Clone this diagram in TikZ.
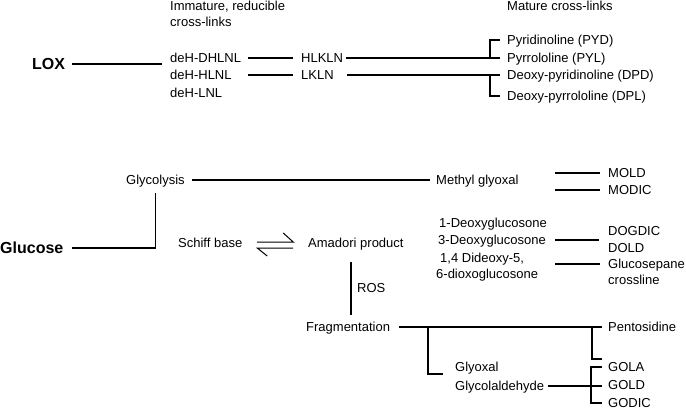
\documentclass[tikz,border=0pt]{standalone}
\usepackage{fontspec}
\setmainfont{Liberation Sans}
\usepackage{tikz}
\usetikzlibrary{calc}
\tikzset{
 txt/.style={font=\fontsize{13}{15}\selectfont,inner sep=0pt,anchor=west,text height=9.4pt,text depth=0pt},
 head/.style={txt,font=\bfseries\fontsize{16}{19}\selectfont,text height=11.5pt},
 link/.style={line width=1.2pt}
}
\begin{document}
\begin{tikzpicture}[x=1pt,y=-1pt]
\useasboundingbox(0,0)rectangle(686,410);
%headers
\node[txt](imm1)at(170,6){Immature, reducible};
\node[txt](imm2)at(170,22){cross-links};
\node[txt](mat)at(507,6){Mature cross-links};
%LOX branch
\node[head](lox)at(32,64){LOX};
\node[txt](dhlnl)at(170,58){deH-DHLNL};
\node[txt](hlnl)at(170,75){deH-HLNL};
\node[txt](lnl)at(170,93){deH-LNL};
\node[txt](hlkln)at(301,58){HLKLN};
\node[txt](lkln)at(301,75){LKLN};
\node[txt](pyd)at(507,40){Pyridinoline (PYD)};
\node[txt](pyl)at(507,58){Pyrrololine (PYL)};
\node[txt](dpd)at(507,75){Deoxy-pyridinoline (DPD)};
\node[txt](dpl)at(507,96){Deoxy-pyrrololine (DPL)};
\draw[link]([xshift=7pt]lox.east)--([xshift=-8pt]lox.east-|dhlnl.west);
\draw[link]([xshift=7pt]dhlnl.east)--([xshift=-8pt]hlkln.west);
\draw[link]([xshift=7pt]hlnl.east-|dhlnl.east)--([xshift=-8pt]lkln.west);
\draw[link]([xshift=3pt]hlkln.east)--([xshift=-7pt]pyl.west);
\draw[link]([xshift=13pt]lkln.east)--([xshift=-7pt]dpd.west);
\draw[link]([xshift=-17pt]pyl.west)|-([xshift=-7pt]pyd.west);
\draw[link]([xshift=-17pt]dpd.west)|-([xshift=-7pt]dpl.west);
%glucose branch
\node[head](gluc)at(0,248){Glucose};
\node[txt](glyc)at(126,180){Glycolysis};
\node[txt](mgly)at(436,180){Methyl glyoxal};
\node[txt](mold)at(608,173){MOLD};
\node[txt](modic)at(608,190){MODIC};
\node[txt](schiff)at(178,243){Schiff base};
\node[txt](amadori)at(308,243){Amadori product};
\node[txt](dg1)at(439,223){1-Deoxyglucosone};
\node[txt](dg3)at(438,240){3-Deoxyglucosone};
\node[txt](dd1)at(440,258){1,4 Dideoxy-5,};
\node[txt](dd2)at(436,274){6-dioxoglucosone};
\node[txt](dogdic)at(608,231){DOGDIC};
\node[txt](dold)at(608,248){DOLD};
\node[txt](gpane)at(608,264){Glucosepane};
\node[txt](cross)at(608,280){crossline};
\node[txt](ros)at(357,288){ROS};
\node[txt](frag)at(306,327){Fragmentation};
\node[txt](pento)at(608,327){Pentosidine};
\node[txt](glyox)at(455,367){Glyoxal};
\node[txt](glycol)at(455,386){Glycolaldehyde};
\node[txt](gola)at(608,367){GOLA};
\node[txt](gold)at(608,385){GOLD};
\node[txt](godic)at(608,403){GODIC};
\coordinate(eq)at($(schiff.east)!.5!(amadori.west)$);
\coordinate(fj)at(428,327);
\draw[link]([xshift=7pt]glyc.east)--([xshift=-6pt]mgly.west);
\draw[link]([xshift=8pt]gluc.east)-|([yshift=-8pt]glyc.south);
\draw[link]([xshift=-53pt]mold.west)--([xshift=-8pt]mold.west);
\draw[link]([xshift=-53pt]modic.west)--([xshift=-8pt]modic.west);
\draw[link]([xshift=9pt]dg3.east)--([xshift=-9pt]dg3.east-|dogdic.west);
\draw[link]([xshift=-53pt]gpane.west)--([xshift=-8pt]gpane.west);
%equilibrium
\draw[link,line width=1pt]([shift={(-18,-1)}]eq)--++(36,0)--++(-10,-9);
\draw[link,line width=1pt]([shift={(18,5)}]eq)--++(-36,0)--++(10,8);
%ROS
\draw[link]([xshift=43pt,yshift=-14pt]amadori.south west)--([xshift=45pt,yshift=7pt]frag.north west);
%fragmentation
\draw[link]([xshift=9pt]frag.east)--([xshift=-6pt]pento.west);
\draw[link](fj)|-([xshift=-12pt,yshift=-7pt]glyox.west);
\draw[link]([xshift=-16pt]pento.west)|-([xshift=-6pt,yshift=8pt]gola.west);
\draw[link]([xshift=4pt]glycol.east)--([xshift=-6pt]glycol.east-|gold.west);
\draw[link]([xshift=-6pt]gola.west)-|([xshift=-17pt]gold.west)|-([xshift=-6pt]godic.west);
\end{tikzpicture}
\end{document}
